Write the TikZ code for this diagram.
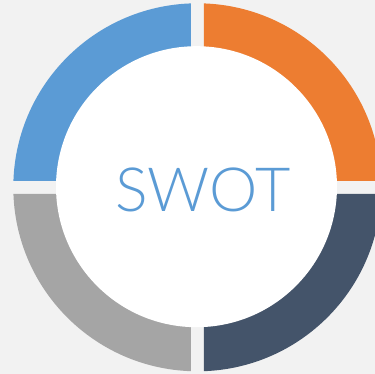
\documentclass[tikz,border=0pt]{standalone}
\usepackage{fontspec}
\setmainfont{Lato}[UprightFont=* Light]
\definecolor{swotbg}{HTML}{F2F2F2}
\definecolor{swotblue}{HTML}{5B9BD5}
\definecolor{swotorange}{HTML}{ED7D31}
\definecolor{swotgrey}{HTML}{A5A5A5}
\definecolor{swotdark}{HTML}{44546A}
\begin{document}
\begin{tikzpicture}[x=1pt,y=1pt,line cap=round,line join=round]
	\useasboundingbox (0,0) rectangle (375,374);
	\clip (0,0) rectangle (375,374);
	\fill[swotbg] (0,0) rectangle (375,374);
	\coordinate (c) at (197.3,186.7);
	\def\R{184} \def\g{6.5}
	% four quarter rings, one per quadrant
	\foreach \col [count=\i] in {swotorange,swotblue,swotgrey,swotdark}{
		\begin{scope}[shift={(c)},rotate=90*(\i-1)]
			\fill[\col] (\g,\g) -- (\g,{\R*sqrt(1-(\g/\R)^2)}) arc[start angle={90-asin(\g/\R)},end angle={asin(\g/\R)},radius=\R] -- cycle;
		\end{scope}
	}
	\node[circle,fill=white,inner sep=0pt,minimum size=281pt] (hub) at (196.5,187.3) {};
	\node[inner sep=0pt,text=swotblue,font=\fontsize{61}{61}\selectfont] (swot) at (202.9,184.2) {SWOT};
\end{tikzpicture}
\end{document}
